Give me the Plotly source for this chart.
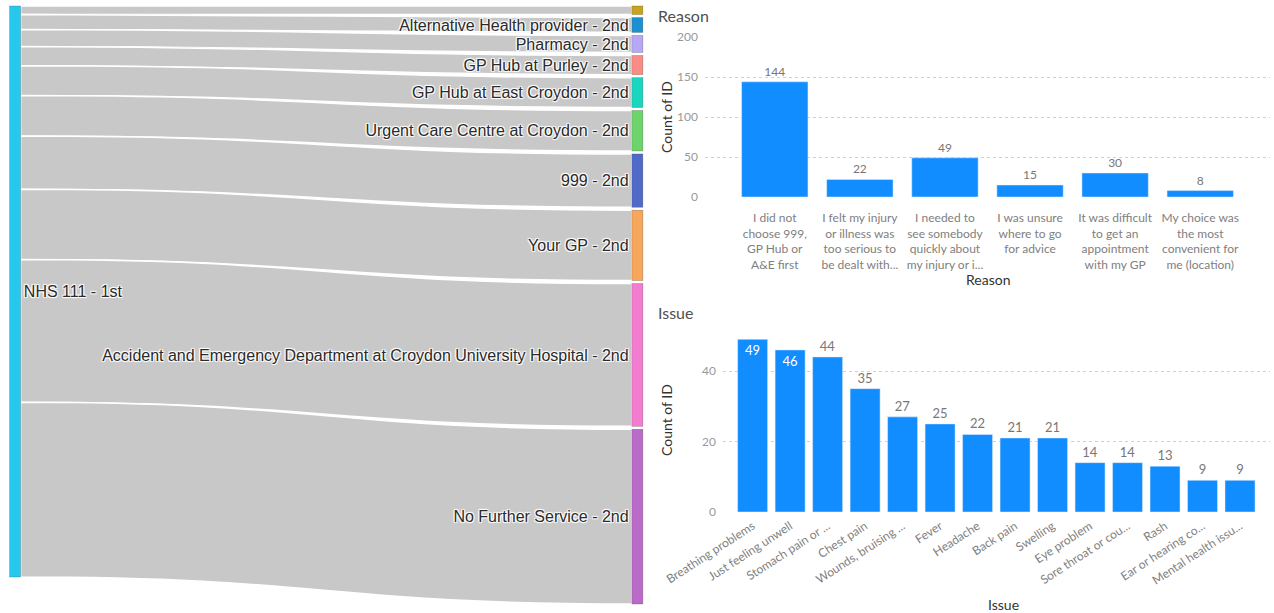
import plotly.graph_objects as go

# sankey: NHS 111 first contact -> second service
source_node = "NHS 111 - 1st"
second_nodes = [
    "",
    "Alternative Health provider - 2nd",
    "Pharmacy - 2nd",
    "GP Hub at Purley - 2nd",
    "GP Hub at East Croydon - 2nd",
    "Urgent Care Centre at Croydon - 2nd",
    "999 - 2nd",
    "Your GP - 2nd",
    "Accident and Emergency Department at Croydon University Hospital - 2nd",
    "No Further Service - 2nd",
]
second_counts = [4, 7, 8, 9, 14, 19, 25, 33, 67, 82]
node_colors = ["#27C8EE", "#C9A21E", "#1C90D0", "#B7A8F5", "#F98C84", "#19D6BE",
               "#6DD46B", "#4F6AC8", "#F7A65B", "#F37CD1", "#BA6BC9"]

# reason chart
reason_labels = [
    "I did not<br>choose 999,<br>GP Hub or<br>A&E first",
    "I felt my injury<br>or illness was<br>too serious to<br>be dealt with...",
    "I needed to<br>see somebody<br>quickly about<br>my injury or i...",
    "I was unsure<br>where to go<br>for advice",
    "It was difficult<br>to get an<br>appointment<br>with my GP",
    "My choice was<br>the most<br>convenient for<br>me (location)",
]
reason_counts = [144, 22, 49, 15, 30, 8]

# issue chart
issue_labels = ["Breathing problems", "Just feeling unwell", "Stomach pain or ...",
                "Chest pain", "Wounds, bruising ...", "Fever", "Headache", "Back pain",
                "Swelling", "Eye problem", "Sore throat or cou...", "Rash",
                "Ear or hearing co...", "Mental health issu..."]
issue_counts = [49, 46, 44, 35, 27, 25, 22, 21, 21, 14, 14, 13, 9, 9]

BLUE = "#118DFF"
PBI_FONT = "Segoe UI, Lato, sans-serif"
W, H = 1274, 613


def fx(px):
    return px / W


def fy(px):
    return 1 - px / H


# sankey node placement (keeps the power bi top-to-bottom order)
sk_top, sk_bottom, pad_px = 6, 604, 3
sk_h = sk_bottom - sk_top
pad = pad_px / sk_h
total = sum(second_counts)
ky = (1 - pad * (len(second_counts) - 1)) / total
node_y = [total * ky / 2]
cum = 0
for i, v in enumerate(second_counts):
    node_y.append((cum + v / 2) * ky + i * pad)
    cum += v
node_x = [0.001] + [0.999] * len(second_counts)

fig = go.Figure()

fig.add_trace(go.Sankey(
    domain=dict(x=[fx(14.5), fx(638)], y=[fy(sk_bottom), fy(sk_top)]),
    arrangement="fixed",
    node=dict(
        label=[source_node] + second_nodes,
        color=node_colors,
        x=node_x, y=node_y,
        pad=pad_px,
        thickness=11,
        line=dict(color="rgba(60,60,60,0.5)", width=0.5),
    ),
    link=dict(
        source=[0] * len(second_nodes),
        target=list(range(1, len(second_nodes) + 1)),
        value=second_counts,
        color="rgba(200,200,200,1)",
        line=dict(color="white", width=1.5),
    ),
    textfont=dict(family="Arial, Liberation Sans", size=16, color="#2a2a2a"),
    hoverinfo="none",
))

fig.add_trace(go.Bar(
    x=list(range(len(reason_counts))), y=reason_counts,
    marker_color=BLUE, width=0.78,
    text=reason_counts, textposition="outside", cliponaxis=False,
    textfont=dict(family=PBI_FONT, size=12, color="#777777"),
    xaxis="x", yaxis="y", showlegend=False, hoverinfo="skip",
))

issue_pos = ["inside" if v >= 45 else "outside" for v in issue_counts]
fig.add_trace(go.Bar(
    x=list(range(len(issue_counts))), y=issue_counts,
    marker_color=BLUE, width=0.8,
    text=issue_counts, textposition=issue_pos, insidetextanchor="end",
    cliponaxis=False, textangle=0,
    insidetextfont=dict(family=PBI_FONT, size=13, color="white"),
    outsidetextfont=dict(family=PBI_FONT, size=13, color="#777777"),
    xaxis="x2", yaxis="y2", showlegend=False, hoverinfo="skip",
))

grid = dict(showgrid=True, gridcolor="#d0d0d0", griddash="dot", gridwidth=1,
            zeroline=False, showline=False, ticks="", automargin=False,
            ticklabelstandoff=6,
            tickfont=dict(family=PBI_FONT, size=12, color="#999999"))

fig.update_layout(
    width=W, height=H,
    margin=dict(l=0, r=0, t=0, b=0, autoexpand=False),
    paper_bgcolor="white", plot_bgcolor="white",
    font=dict(family=PBI_FONT),
    xaxis=dict(domain=[fx(705), fx(1270)], range=[-0.82, 5.82],
               tickvals=list(range(len(reason_labels))), ticktext=reason_labels,
               tickangle=0, automargin=False, ticklabelstandoff=12,
               tickfont=dict(family=PBI_FONT, size=12, color="#808080"),
               showgrid=False, zeroline=False, showline=False, ticks=""),
    yaxis=dict(domain=[fy(197), fy(37)], range=[0, 200],
               tickvals=[0, 50, 100, 150, 200], **grid),
    xaxis2=dict(domain=[fx(723), fx(1270)], range=[-0.79, 13.8], anchor="y2",
                tickvals=list(range(len(issue_labels))), ticktext=issue_labels,
                tickangle=-33, automargin=False, ticklabelstandoff=4,
                tickfont=dict(family=PBI_FONT, size=12, color="#808080"),
                showgrid=False, zeroline=False, showline=False, ticks=""),
    yaxis2=dict(domain=[fy(512), fy(333)], range=[0, 50.8], anchor="x2",
                tickvals=[0, 20, 40], **grid),
)

title_font = dict(family=PBI_FONT, size=16, color="#505050")
axis_font = dict(family=PBI_FONT, size=14, color="#333333")
notes = [
    dict(text="Reason", x=fx(656), y=fy(15), xanchor="left", font=title_font),
    dict(text="Issue", x=fx(656), y=fy(313), xanchor="left", font=title_font),
    dict(text="Count of ID", x=fx(666), y=fy(117), textangle=-90, font=axis_font),
    dict(text="Count of ID", x=fx(666), y=fy(420), textangle=-90, font=axis_font),
    dict(text="Reason", x=fx(988), y=fy(279), font=axis_font),
    dict(text="Issue", x=fx(1003), y=fy(604), font=axis_font),
]
for n in notes:
    n.setdefault("xanchor", "center")
    fig.add_annotation(xref="paper", yref="paper", yanchor="middle",
                       showarrow=False, **n)

# drop the browser's default 8px body margin so page pixels match the layout
fig.write_html("out.html", config={"displayModeBar": False},
               post_script="document.body.style.margin = '0';")
